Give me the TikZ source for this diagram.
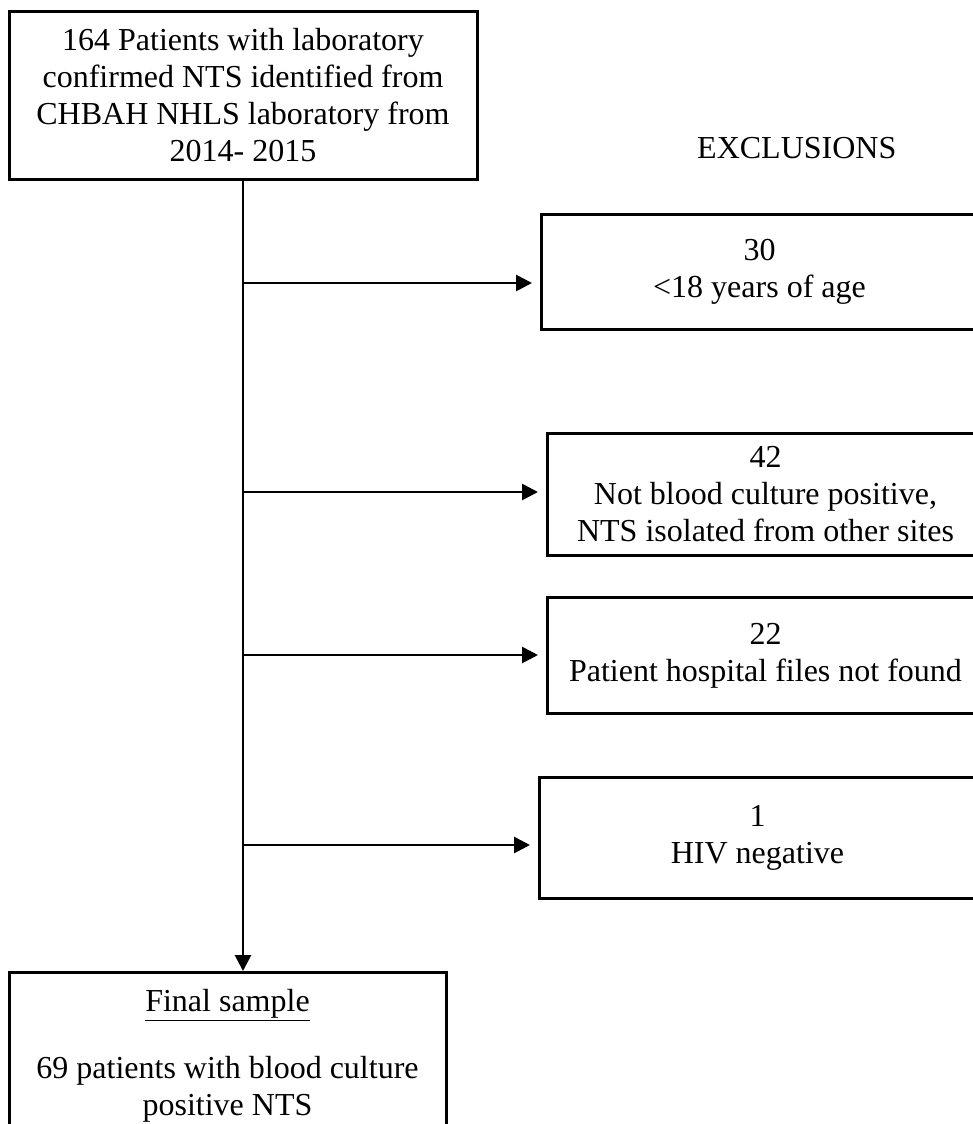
\documentclass[tikz,border=0pt]{standalone}
\usepackage{fontspec}
\setmainfont{Liberation Serif}
\usetikzlibrary{arrows.meta}
\begin{document}
\begin{tikzpicture}[x=1pt,y=-1pt,
  box/.style={draw, line width=3pt, align=center, inner sep=0pt, font=\fontsize{32}{37}\selectfont},
  lbl/.style={inner sep=0pt, font=\fontsize{32}{37}\selectfont},
  arr/.style={line width=2.8pt, -{Triangle[length=16pt,width=16pt]}}]
\useasboundingbox (0,0) rectangle (973,1124);
\clip (0,0) rectangle (973,1124);
\node[box, minimum width=468pt, minimum height=167pt] (top) at (243,95.5)
  {164 Patients with laboratory\\confirmed NTS identified from\\CHBAH NHLS laboratory from\\2014- 2015};
\node[lbl, anchor=base west] (ex) at (697,158) {EXCLUSIONS};
\node[box, anchor=north west, minimum width=436pt, minimum height=115pt] (b1) at (540,213)
  {30\\<18 years of age};
\node[box, anchor=north west, minimum width=436pt, minimum height=122pt] (b2) at (546,432)
  {42\\Not blood culture positive,\\NTS isolated from other sites};
\node[box, anchor=north west, minimum width=436pt, minimum height=116pt] (b3) at (546,596)
  {22\\Patient hospital files not found};
\node[box, anchor=north west, minimum width=436pt, minimum height=121pt] (b4) at (538,776)
  {1\\HIV negative};
\node[box, anchor=north, minimum width=437pt, inner ysep=17pt] (fin) at (227.5,971)
  {\underline{Final sample}\\[30pt]69 patients with blood culture\\positive NTS};
\coordinate (a1) at (243,283);
\coordinate (a2) at (243,492);
\coordinate (a3) at (243,655);
\coordinate (a4) at (243,845);
\draw[arr] (top.south) -- (top.south |- fin.north);
\draw[arr, shorten >=8pt] (a1) -- (a1 -| b1.west);
\draw[arr, shorten >=8pt] (a2) -- (a2 -| b2.west);
\draw[arr, shorten >=8pt] (a3) -- (a3 -| b3.west);
\draw[arr, shorten >=8pt] (a4) -- (a4 -| b4.west);
\end{tikzpicture}
\end{document}
